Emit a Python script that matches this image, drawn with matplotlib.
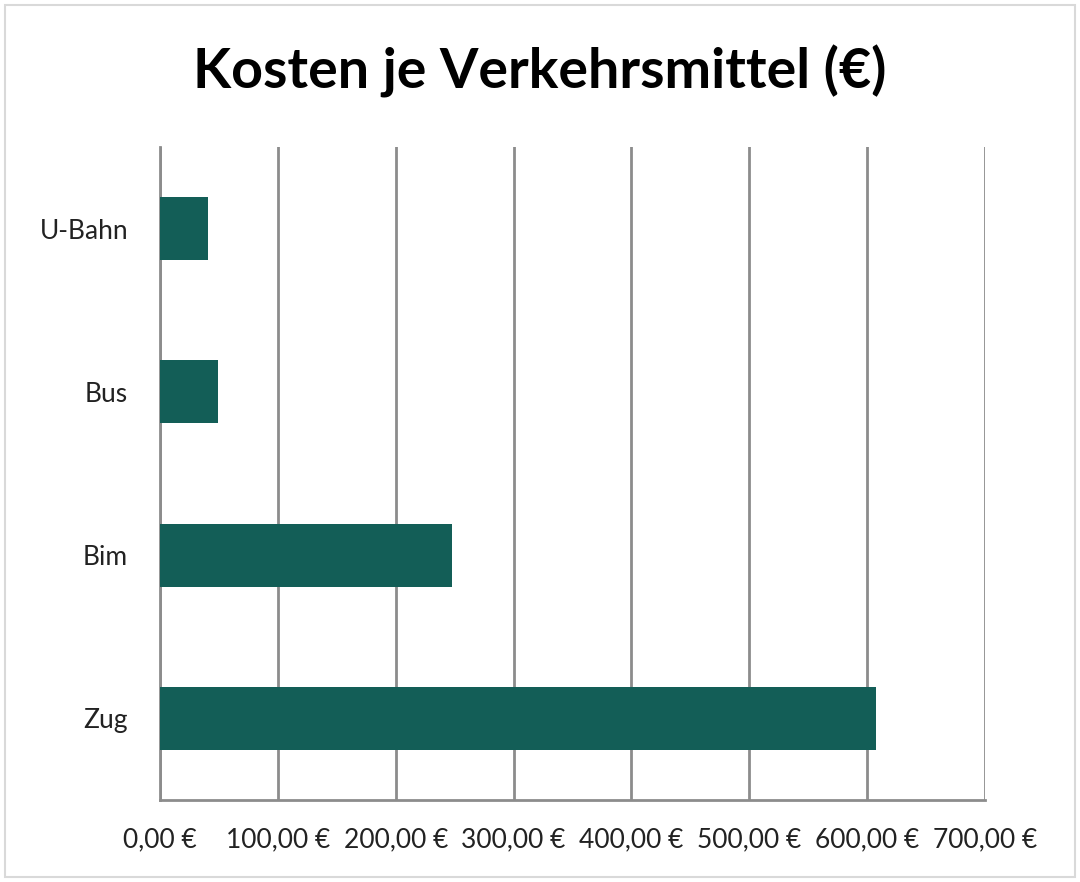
import matplotlib.pyplot as plt
from matplotlib.patches import Rectangle

# data
categories = ['Zug', 'Bim', 'Bus', 'U-Bahn']
costs = [607.5, 248, 49.5, 40.5]
xticks = [0, 100, 200, 300, 400, 500, 600, 700]
xtick_labels = ['0,00 €', '100,00 €', '200,00 €', '300,00 €', '400,00 €',
                '500,00 €', '600,00 €', '700,00 €']

plt.rcParams['font.family'] = ['Lato', 'DejaVu Sans']

fig = plt.figure(figsize=(10.8, 8.82), dpi=100)
ax = fig.add_axes([160/1080, 1 - 800/882, 825/1080, 653/882])

ax.barh(range(len(categories)), costs, height=0.385, color='#135E57', zorder=3)

ax.set_xlim(0, 700)
ax.set_ylim(-0.5, 3.5)
ax.set_xticks(xticks)
ax.set_xticklabels(xtick_labels, fontsize=19, color='#222222')
ax.set_yticks(range(len(categories)))
ax.set_yticklabels(categories, fontsize=19, color='#222222')

ax.grid(axis='x', color='#8c8c8c', linewidth=2, zorder=0)
for s in ['top', 'right']:
    ax.spines[s].set_visible(False)
ax.spines['left'].set_color('#8c8c8c')
ax.spines['left'].set_linewidth(2)
ax.spines['bottom'].set_color('#8c8c8c')
ax.spines['bottom'].set_linewidth(2)
ax.tick_params(axis='y', length=0, pad=23)
ax.tick_params(axis='x', length=0, pad=20)

fig.text(0.5, 1 - 71/882, 'Kosten je Verkehrsmittel (€)', ha='center', va='center',
         fontsize=40, fontweight='bold', color='black')

# outer chart border
fig.patches.append(Rectangle((5/1080, 5/882), 1070/1080, 872/882, transform=fig.transFigure,
                             fill=False, edgecolor='#d9d9d9', linewidth=1.5))

plt.savefig('out.png', dpi=100)
